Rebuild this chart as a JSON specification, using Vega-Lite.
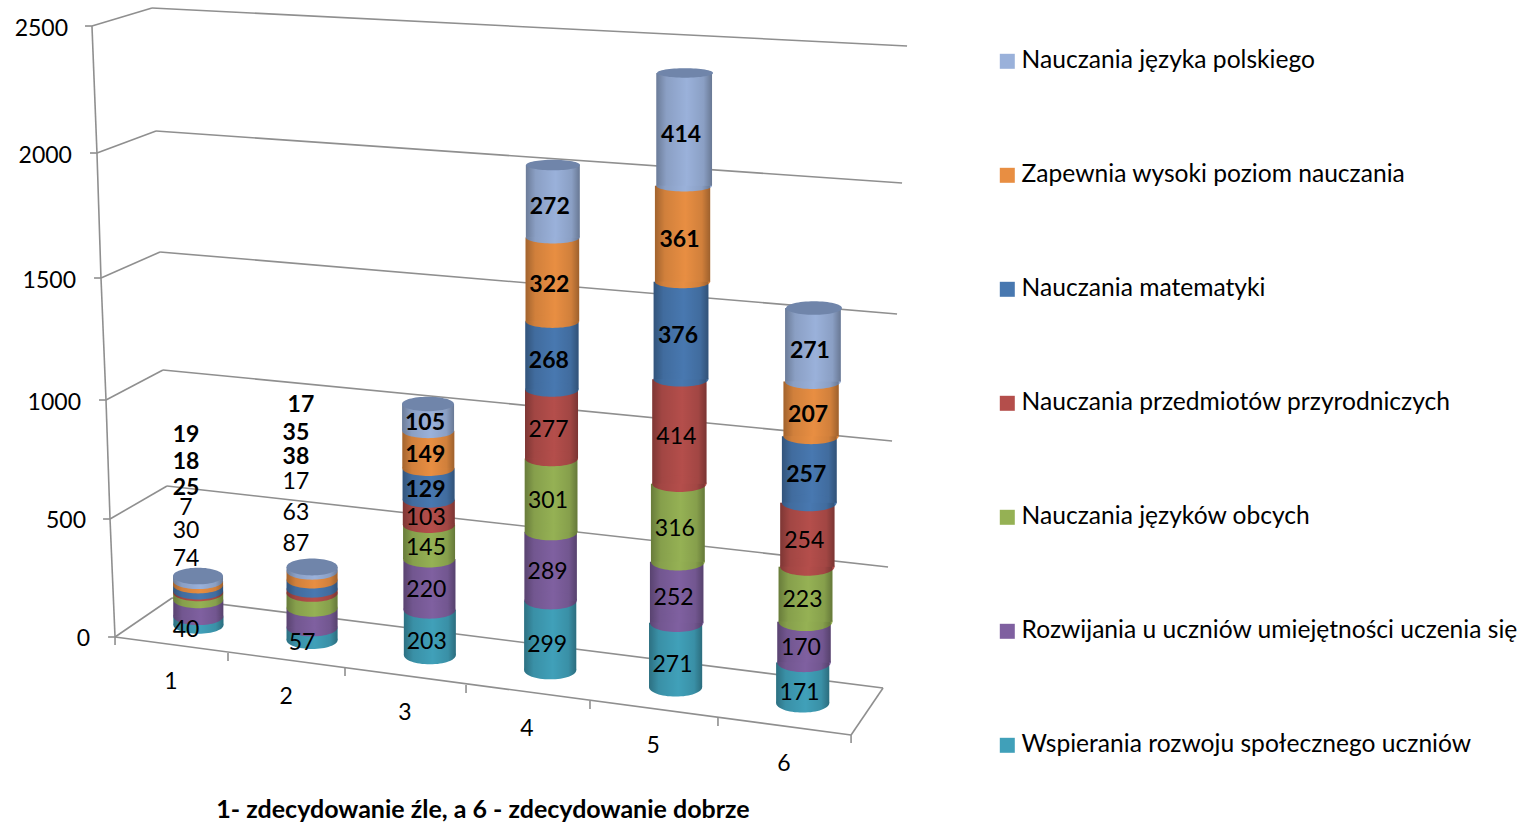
{
"$schema":"https://vega.github.io/schema/vega-lite/v6.json",
"width":1526,"height":824,"padding":0,"autosize":"none","background":"white",
"config":{"view":{"stroke":null},"font":"Lato"},
"datasets":{
"seg":[
{"col":1,"series":"Wspierania rozwoju społecznego uczniów","o":0,"n":40},{"col":1,"series":"Rozwijania u uczniów umiejętności uczenia się","o":1,"n":74},{"col":1,"series":"Nauczania języków obcych","o":2,"n":30},{"col":1,"series":"Nauczania przedmiotów przyrodniczych","o":3,"n":7},{"col":1,"series":"Nauczania matematyki","o":4,"n":25},{"col":1,"series":"Zapewnia wysoki poziom nauczania","o":5,"n":18},{"col":1,"series":"Nauczania języka polskiego","o":6,"n":19},
{"col":2,"series":"Wspierania rozwoju społecznego uczniów","o":0,"n":57},{"col":2,"series":"Rozwijania u uczniów umiejętności uczenia się","o":1,"n":87},{"col":2,"series":"Nauczania języków obcych","o":2,"n":63},{"col":2,"series":"Nauczania przedmiotów przyrodniczych","o":3,"n":17},{"col":2,"series":"Nauczania matematyki","o":4,"n":38},{"col":2,"series":"Zapewnia wysoki poziom nauczania","o":5,"n":35},{"col":2,"series":"Nauczania języka polskiego","o":6,"n":17},
{"col":3,"series":"Wspierania rozwoju społecznego uczniów","o":0,"n":203},{"col":3,"series":"Rozwijania u uczniów umiejętności uczenia się","o":1,"n":220},{"col":3,"series":"Nauczania języków obcych","o":2,"n":145},{"col":3,"series":"Nauczania przedmiotów przyrodniczych","o":3,"n":103},{"col":3,"series":"Nauczania matematyki","o":4,"n":129},{"col":3,"series":"Zapewnia wysoki poziom nauczania","o":5,"n":149},{"col":3,"series":"Nauczania języka polskiego","o":6,"n":105},
{"col":4,"series":"Wspierania rozwoju społecznego uczniów","o":0,"n":299},{"col":4,"series":"Rozwijania u uczniów umiejętności uczenia się","o":1,"n":289},{"col":4,"series":"Nauczania języków obcych","o":2,"n":301},{"col":4,"series":"Nauczania przedmiotów przyrodniczych","o":3,"n":277},{"col":4,"series":"Nauczania matematyki","o":4,"n":268},{"col":4,"series":"Zapewnia wysoki poziom nauczania","o":5,"n":322},{"col":4,"series":"Nauczania języka polskiego","o":6,"n":272},
{"col":5,"series":"Wspierania rozwoju społecznego uczniów","o":0,"n":271},{"col":5,"series":"Rozwijania u uczniów umiejętności uczenia się","o":1,"n":252},{"col":5,"series":"Nauczania języków obcych","o":2,"n":316},{"col":5,"series":"Nauczania przedmiotów przyrodniczych","o":3,"n":414},{"col":5,"series":"Nauczania matematyki","o":4,"n":376},{"col":5,"series":"Zapewnia wysoki poziom nauczania","o":5,"n":361},{"col":5,"series":"Nauczania języka polskiego","o":6,"n":414},
{"col":6,"series":"Wspierania rozwoju społecznego uczniów","o":0,"n":171},{"col":6,"series":"Rozwijania u uczniów umiejętności uczenia się","o":1,"n":170},{"col":6,"series":"Nauczania języków obcych","o":2,"n":223},{"col":6,"series":"Nauczania przedmiotów przyrodniczych","o":3,"n":254},{"col":6,"series":"Nauczania matematyki","o":4,"n":257},{"col":6,"series":"Zapewnia wysoki poziom nauczania","o":5,"n":207},{"col":6,"series":"Nauczania języka polskiego","o":6,"n":271}
],
"grid":[{"v":0},{"v":500},{"v":1000},{"v":1500},{"v":2000},{"v":2500}],
"cats":[{"c":1},{"c":2},{"c":3},{"c":4},{"c":5},{"c":6}],
"ticks":[{"k":0},{"k":1},{"k":2},{"k":3},{"k":4},{"k":5},{"k":6}],
"floor":[{"e":0},{"e":1}],
"xtitle":[{"label":"1- zdecydowanie źle,  a 6 - zdecydowanie dobrze"}]
},
"encoding":{
"x":{"field":"x","type":"quantitative","axis":null,"scale":{"domain":[-0.6148,11.893],"nice":false,"zero":false}},
"y":{"field":"y","type":"quantitative","axis":null,"scale":{"domain":[-766.4,2610.7],"nice":false,"zero":false}}
},
"layer":[
{"data":{"name":"grid"},"transform":[
{"calculate":"datum.v/500","as":"i"},
{"calculate":"[0.328,0.287,0.254,0.213,0.180,0.139][datum.i]","as":"x"},
{"calculate":"[0,483.6,971.3,1471.3,1983.6,2504.1][datum.i]","as":"y"},
{"calculate":"[0.795,0.754,0.721,0.697,0.664,0.631][datum.i]","as":"x2"},
{"calculate":"[159.8,618.9,1094.3,1577.9,2073.8,2577.9][datum.i]","as":"y2"}],
"mark":{"type":"rule","color":"#8f8f8f","strokeWidth":1.6},
"encoding":{"x2":{"field":"x2"},"y2":{"field":"y2"}}},
{"data":{"name":"grid"},"transform":[
{"calculate":"datum.v/500","as":"i"},
{"calculate":"[0.795,0.754,0.721,0.697,0.664,0.631][datum.i]","as":"x"},
{"calculate":"[159.8,618.9,1094.3,1577.9,2073.8,2577.9][datum.i]","as":"y"},
{"calculate":"[6.623,6.664,6.697,6.738,6.779,6.820][datum.i]","as":"x2"},
{"calculate":"[-209,286.9,803.3,1323.8,1860.7,2422.1][datum.i]","as":"y2"}],
"mark":{"type":"rule","color":"#8f8f8f","strokeWidth":1.6},
"encoding":{"x2":{"field":"x2"},"y2":{"field":"y2"}}},
{"data":{"name":"grid"},"transform":[
{"calculate":"datum.v/500","as":"i"},
{"calculate":"[0.328,0.287,0.254,0.213,0.180,0.139][datum.i]","as":"xa"},
{"calculate":"[0,483.6,971.3,1471.3,1983.6,2504.1][datum.i]","as":"y"},
{"calculate":"datum.xa-0.057","as":"x"},
{"calculate":"datum.xa","as":"x2"},
{"calculate":"datum.y","as":"y2"}],
"mark":{"type":"rule","color":"#8f8f8f","strokeWidth":1.6},
"encoding":{"x2":{"field":"x2"},"y2":{"field":"y2"}}},
{"data":{"name":"grid"},"transform":[
{"filter":"datum.v<2500"},
{"calculate":"datum.v/500","as":"i"},
{"calculate":"[0.328,0.287,0.254,0.213,0.180,0.139][datum.i]","as":"x"},
{"calculate":"[0,483.6,971.3,1471.3,1983.6,2504.1][datum.i]","as":"y"},
{"calculate":"[0.328,0.287,0.254,0.213,0.180,0.139][datum.i+1]","as":"x2"},
{"calculate":"[0,483.6,971.3,1471.3,1983.6,2504.1][datum.i+1]","as":"y2"}],
"mark":{"type":"rule","color":"#8f8f8f","strokeWidth":1.6},
"encoding":{"x2":{"field":"x2"},"y2":{"field":"y2"}}},
{"data":{"name":"floor"},"transform":[
{"calculate":"[0.328,6.361][datum.e]","as":"x"},
{"calculate":"[0,-401.6][datum.e]","as":"y"},
{"calculate":"[6.361,6.623][datum.e]","as":"x2"},
{"calculate":"[-401.6,-209][datum.e]","as":"y2"}],
"mark":{"type":"rule","color":"#8f8f8f","strokeWidth":1.6},
"encoding":{"x2":{"field":"x2"},"y2":{"field":"y2"}}},
{"data":{"name":"ticks"},"transform":[
{"calculate":"[0.328,1.254,2.213,3.205,4.221,5.27,6.361][datum.k]","as":"x"},
{"calculate":"[0,-65.6,-127,-196.7,-262.3,-332,-401.6][datum.k]","as":"y"},
{"calculate":"datum.x","as":"x2"},
{"calculate":"datum.y-32.8","as":"y2"}],
"mark":{"type":"rule","color":"#8f8f8f","strokeWidth":1.6},
"encoding":{"x2":{"field":"x2"},"y2":{"field":"y2"}}},
{"data":{"name":"grid"},"transform":[
{"calculate":"datum.v/500","as":"i"},
{"calculate":"[0.123,0.090,0.049,0.008,-0.025,-0.057][datum.i]","as":"x"},
{"calculate":"[0,483.6,967.2,1467.2,1979.5,2500][datum.i]","as":"y"}],
"mark":{"type":"text","align":"right","baseline":"middle","fontSize":23,"color":"#000","dy":2},
"encoding":{"text":{"field":"v","type":"quantitative"}}},
{"data":{"name":"cats"},"transform":[
{"calculate":"[0.787,1.73,2.705,3.705,4.738,5.811][datum.c-1]","as":"x"},
{"calculate":"[-176.2,-237.7,-303.3,-368.9,-438.5,-512.3][datum.c-1]","as":"y"}],
"mark":{"type":"text","align":"center","baseline":"middle","fontSize":23,"color":"#000","dy":2},
"encoding":{"text":{"field":"c","type":"nominal"}}},
{"data":{"name":"xtitle"},"transform":[
{"calculate":"3.344","as":"x"},
{"calculate":"-704.9","as":"y"}],
"mark":{"type":"text","align":"center","baseline":"middle","fontSize":25,"fontWeight":"bold","color":"#000","dy":1},
"encoding":{"text":{"field":"label","type":"nominal"}}},
{"data":{"name":"seg"},"transform":[
{"stack":"n","groupby":["col"],"sort":[{"field":"o","order":"ascending"}],"as":["s0","s1"]},
{"joinaggregate":[{"op":"sum","field":"n","as":"total"}],"groupby":["col"]},
{"calculate":"datum.col-1","as":"i"},
{"calculate":"[49.2,-12.3,-73.8,-135.2,-204.9,-270.5][datum.i]","as":"yb"},
{"calculate":"[250,286.9,954.9,1934.4,2311.5,1348.4][datum.i]","as":"yt"},
{"calculate":"[1.012,1.943,2.910,3.893,4.918,5.959][datum.i]","as":"xb"},
{"calculate":"[1.008,1.943,2.893,3.918,5.0,6.057][datum.i]","as":"xt"},
{"calculate":"[0.41,0.418,0.426,0.426,0.434,0.434][datum.i]","as":"wb"},
{"calculate":"[0.41,0.418,0.426,0.443,0.459,0.459][datum.i]","as":"wt"},
{"calculate":"datum.s0/datum.total","as":"t0"},
{"calculate":"datum.s1/datum.total","as":"t1"},
{"calculate":"(datum.t0+datum.t1)/2","as":"tm"},
{"calculate":"datum.xb+(datum.xt-datum.xb)*datum.tm","as":"xc"},
{"calculate":"datum.wb+(datum.wt-datum.wb)*datum.tm","as":"w"},
{"calculate":"datum.yb+(datum.yt-datum.yb)*(datum.t0-0.08*datum.t0*(1-datum.t0))","as":"ylo"},
{"calculate":"datum.yb+(datum.yt-datum.yb)*(datum.t1-0.08*datum.t1*(1-datum.t1))","as":"yhi"},
{"calculate":"(datum.ylo+datum.yhi)/2-(datum.o==0?32:16)","as":"ymid"},
{"calculate":"(datum.w*122)*(datum.w*122)","as":"sz"},
{"calculate":"format(clamp(0.36-(datum.ylo+100)*0.00008,0.16,0.36),'.3f')","as":"r"}
],
"layer":[
{"transform":[{"calculate":"datum.xc-datum.w/2","as":"x"},{"calculate":"datum.xc+datum.w/2","as":"x2"},{"calculate":"datum.ylo","as":"y"},{"calculate":"datum.yhi","as":"y2"}],
"mark":{"type":"rect"},
"encoding":{"x2":{"field":"x2"},"y2":{"field":"y2"},
"color":{"field":"series","type":"nominal","scale":{"domain":["Nauczania języka polskiego","Zapewnia wysoki poziom nauczania","Nauczania matematyki","Nauczania przedmiotów przyrodniczych","Nauczania języków obcych","Rozwijania u uczniów umiejętności uczenia się","Wspierania rozwoju społecznego uczniów"],"range":["#9ab1da","#e88e42","#4878b0","#b44e4b","#95b154","#7f60a0","#40a0b9"]},
"legend":{"title":null,"orient":"none","legendX":995,"legendY":49,"symbolType":"square","symbolSize":225,"symbolStrokeWidth":0,"labelFontSize":24.6,"labelFont":"Lato","labelColor":"#000","labelLimit":600,"labelOffset":2,"rowPadding":89,"padding":0}}}},
{"transform":[{"calculate":"datum.xc","as":"x"},{"calculate":"datum.ylo","as":"y"},{"calculate":"'M-1 0A1 '+datum.r+' 0 1 1 1 0A1 '+datum.r+' 0 1 1 -1 0Z'","as":"shp"}],
"mark":{"type":"point","filled":true,"opacity":1},
"encoding":{"shape":{"field":"shp","type":"nominal","scale":null,"legend":null},"size":{"field":"sz","type":"quantitative","scale":null,"legend":null},
"color":{"field":"series","type":"nominal"}}},
{"transform":[{"calculate":"datum.xc-datum.w/2","as":"x"},{"calculate":"datum.xc+datum.w/2","as":"x2"},{"calculate":"datum.ylo","as":"y"},{"calculate":"datum.yhi","as":"y2"}],
"mark":{"type":"rect","fill":{"gradient":"linear","x1":0,"x2":1,"y1":0,"y2":0,"stops":[{"offset":0,"color":"rgba(0,0,0,0.30)"},{"offset":0.18,"color":"rgba(0,0,0,0.10)"},{"offset":0.55,"color":"rgba(0,0,0,0)"},{"offset":0.85,"color":"rgba(0,0,0,0.10)"},{"offset":1,"color":"rgba(0,0,0,0.32)"}]}},
"encoding":{"x2":{"field":"x2"},"y2":{"field":"y2"}}},
{"transform":[{"filter":"datum.o==0"},{"calculate":"datum.xc","as":"x"},{"calculate":"datum.ylo","as":"y"},{"calculate":"'M-1 0A1 '+datum.r+' 0 0 0 1 0Z'","as":"shp"}],
"mark":{"type":"point","filled":true,"opacity":1,"fill":{"gradient":"linear","x1":0,"x2":1,"y1":0,"y2":0,"stops":[{"offset":0,"color":"rgba(0,0,0,0.30)"},{"offset":0.18,"color":"rgba(0,0,0,0.10)"},{"offset":0.55,"color":"rgba(0,0,0,0)"},{"offset":0.85,"color":"rgba(0,0,0,0.10)"},{"offset":1,"color":"rgba(0,0,0,0.32)"}]}},
"encoding":{"shape":{"field":"shp","type":"nominal","scale":null,"legend":null},"size":{"field":"sz","type":"quantitative","scale":null,"legend":null}}},
{"transform":[{"filter":"datum.o==6"},{"calculate":"datum.xt","as":"x"},{"calculate":"datum.yt","as":"y"},{"calculate":"(datum.wt*122)*(datum.wt*122)","as":"szt"},{"calculate":"format(clamp(0.36-(datum.yt+100)*0.00008,0.16,0.36),'.3f')","as":"rt"},{"calculate":"'M-1 0A1 '+datum.rt+' 0 1 1 1 0A1 '+datum.rt+' 0 1 1 -1 0Z'","as":"shp"}],
"mark":{"type":"point","filled":true,"opacity":1,"color":"#7085aa"},
"encoding":{"shape":{"field":"shp","type":"nominal","scale":null,"legend":null},"size":{"field":"szt","type":"quantitative","scale":null,"legend":null}}},
{"transform":[{"filter":"datum.o<4"},
{"calculate":"datum.col==1?0.910:datum.col==2?(datum.o==0?1.861:1.811):datum.xc-0.025","as":"x"},
{"calculate":"datum.col==1?[36.9,327.9,442.6,536.9,618.9,725.4,836.1][datum.o]:datum.col==2?[-16.4,389.3,516.4,643.4,745.9,844.3,959][datum.o]:datum.ymid","as":"y"}],
"mark":{"type":"text","align":"center","baseline":"middle","fontSize":23,"color":"#000","dy":2},
"encoding":{"text":{"field":"n","type":"quantitative"}}},
{"transform":[{"filter":"datum.o>=4"},
{"calculate":"datum.col==1?0.910:datum.col==2?(datum.o==6?1.852:1.811):datum.xc-0.025","as":"x"},
{"calculate":"datum.col==1?[36.9,327.9,442.6,536.9,618.9,725.4,836.1][datum.o]:datum.col==2?[-16.4,389.3,516.4,643.4,745.9,844.3,959][datum.o]:datum.ymid","as":"y"}],
"mark":{"type":"text","align":"center","baseline":"middle","fontSize":23,"fontWeight":"bold","color":"#000","dy":2},
"encoding":{"text":{"field":"n","type":"quantitative"}}}
]}
]}
